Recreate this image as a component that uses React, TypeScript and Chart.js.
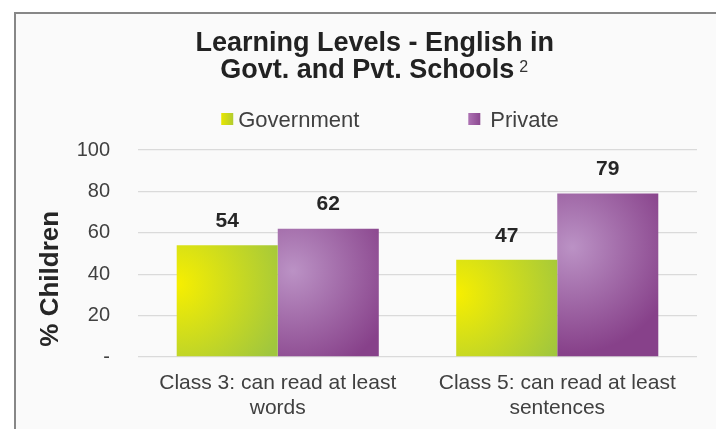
import React, { useEffect, useRef } from "react";
import { Chart, registerables } from "chart.js";

Chart.register(...registerables);

// ---- data ----
const categoryLabels: string[][] = [
  ["Class 3: can read at least", "words"],
  ["Class 5: can read at least", "sentences"],
];
const seriesNames = ["Government", "Private"];
const governmentValues = [54, 47];
const privateValues = [62, 79];
const yTickValues = [0, 20, 40, 60, 80, 100];
const titleLines = ["Learning Levels - English in", "Govt. and Pvt. Schools"];
const titleSuperscript = "2";
const yAxisTitle = "% Children";
const zeroTickLabel = "-";

// ---- styles ----
const FONT = '"Liberation Sans", Arial, Helvetica, sans-serif';
const barShades = [
  { inner: "#f7ef00", outer: "#a0c63e", fx: 0.0, fy: 0.35, r: 1.15 },
  { inner: "#bb92c5", outer: "#87418a", fx: 0.15, fy: 0.33, r: 1.05 },
];
const legendSwatches = [
  ["#e8e600", "#b2cc30"],
  ["#ad72b3", "#8b4890"],
];

const barShading = {
  id: "barShading",
  beforeDatasetsDraw(chart: any) {
    const ctx = chart.ctx;
    chart.data.datasets.forEach((_ds: any, di: number) => {
      const meta = chart.getDatasetMeta(di);
      const s = barShades[di];
      meta.data.forEach((el: any) => {
        const { x, y, base, width } = el.getProps(["x", "y", "base", "width"], true);
        const left = x - width / 2;
        const h = base - y;
        const cx = left + width * s.fx;
        const cy = y + h * s.fy;
        const g = ctx.createRadialGradient(cx, cy, 0, cx, cy, width * s.r);
        g.addColorStop(0, s.inner);
        g.addColorStop(1, s.outer);
        el.options = Object.assign({}, el.options, { backgroundColor: g });
      });
    });
  },
};

const swatchLegend = {
  id: "swatchLegend",
  afterDraw(chart: any, _args: any, opts: any) {
    const ctx = chart.ctx;
    ctx.save();
    ctx.font = `${opts.fontSize}px ${FONT}`;
    const items = chart.data.datasets.map((ds: any, i: number) => {
      const text = String(ds.label);
      const gap = opts.gaps[i];
      return { text, i, gap, w: opts.box + gap + ctx.measureText(text).width };
    });
    const total =
      items.reduce((a: number, it: any) => a + it.w, 0) + opts.spacing * (items.length - 1);
    let x = opts.centerX - total / 2;
    items.forEach((it: any) => {
      const [c0, c1] = legendSwatches[it.i];
      const g = ctx.createLinearGradient(x, 0, x + opts.box, 0);
      g.addColorStop(0, c0);
      g.addColorStop(1, c1);
      ctx.fillStyle = g;
      ctx.fillRect(x, opts.y - opts.box / 2, opts.box, opts.box);
      ctx.fillStyle = opts.color;
      ctx.textAlign = "left";
      ctx.textBaseline = "middle";
      ctx.fillText(it.text, x + opts.box + it.gap, opts.y + 1.5);
      x += it.w + opts.spacing;
    });
    ctx.restore();
  },
};

const titleSup = {
  id: "titleSup",
  afterDraw(chart: any, _args: any, opts: any) {
    const tb = chart.titleBlock;
    if (!tb) return;
    const ctx = chart.ctx;
    const tOpts = chart.options.plugins.title;
    const size = tOpts.font.size;
    const lh = size * tOpts.font.lineHeight;
    const full = String(tOpts.text[1]);
    ctx.save();
    ctx.font = `bold ${size}px ${FONT}`;
    const wFull = ctx.measureText(full).width;
    const wText = ctx.measureText(full.trimEnd()).width;
    const cx = (tb.left + tb.right) / 2;
    const start = cx - wFull / 2;
    const lineCenter = tb.top + tOpts.padding.top + lh * 1.5;
    ctx.font = `${opts.fontSize}px ${FONT}`;
    ctx.fillStyle = opts.color;
    ctx.textAlign = "left";
    ctx.textBaseline = "alphabetic";
    ctx.fillText(opts.text, start + wText + opts.gap, lineCenter + opts.dy);
    ctx.restore();
  },
};

const valueLabels = {
  id: "valueLabels",
  afterDatasetsDraw(chart: any, _args: any, opts: any) {
    const ctx = chart.ctx;
    ctx.save();
    ctx.font = `bold ${opts.fontSize}px ${FONT}`;
    ctx.fillStyle = opts.color;
    ctx.textAlign = "center";
    ctx.textBaseline = "middle";
    chart.data.datasets.forEach((ds: any, di: number) => {
      chart.getDatasetMeta(di).data.forEach((el: any, i: number) => {
        const { x, y } = el.getProps(["x", "y"], true);
        ctx.fillText(String(ds.data[i]), x, y - opts.offset);
      });
    });
    ctx.restore();
  },
};

export default function App() {
  const ref = useRef<HTMLCanvasElement | null>(null);

  useEffect(() => {
    if (!ref.current) return;
    Chart.defaults.font.family = FONT;
    const chart = new Chart(ref.current, {
      type: "bar",
      data: {
        labels: categoryLabels as any,
        datasets: [
          {
            label: seriesNames[0],
            data: governmentValues,
            backgroundColor: "#d0da20",
            borderWidth: 0,
            categoryPercentage: 0.723,
            barPercentage: 1,
          },
          {
            label: seriesNames[1],
            data: privateValues,
            backgroundColor: "#a060a4",
            borderWidth: 0,
            categoryPercentage: 0.723,
            barPercentage: 1,
          },
        ],
      },
      options: {
        responsive: false,
        animation: false,
        events: [],
        layout: { padding: { top: 30, left: 25.4, right: 0, bottom: 3 } },
        plugins: {
          legend: { display: false },
          tooltip: { enabled: false },
          title: {
            display: true,
            text: [titleLines[0], titleLines[1] + "  "],
            color: "#222222",
            font: { family: FONT, size: 27, weight: "bold", lineHeight: 1 },
            padding: { top: 0, bottom: 66 },
          },
          titleSup: { text: titleSuperscript, fontSize: 16, color: "#333333", gap: 5, dy: 1 },
          swatchLegend: {
            centerX: 390,
            y: 119,
            box: 12,
            gaps: [5, 10],
            spacing: 109,
            fontSize: 22,
            color: "#404040",
          },
          valueLabels: { fontSize: 21, color: "#262626", offset: 24 },
        } as any,
        scales: {
          x: {
            grid: { display: false, drawTicks: false },
            border: { display: false },
            ticks: {
              color: "#404040",
              font: { size: 21, lineHeight: 1.19 },
              padding: 13.5,
              maxRotation: 0,
              autoSkip: false,
            },
          },
          y: {
            min: yTickValues[0],
            max: yTickValues[yTickValues.length - 1],
            afterBuildTicks: (s: any) => {
              s.ticks = yTickValues.map((v) => ({ value: v }));
            },
            afterFit: (s: any) => {
              s.width = 112.6;
            },
            ticks: {
              color: "#404040",
              font: { size: 20 },
              padding: 28,
              callback: (v: any) => (Number(v) === 0 ? zeroTickLabel : String(v)),
            },
            grid: { color: "#dadada", lineWidth: 1.3, drawTicks: false },
            border: { display: false },
            title: {
              display: true,
              text: yAxisTitle + "       ",
              color: "#262626",
              font: { size: 26, weight: "bold", lineHeight: 1.2 },
              padding: { top: 10, bottom: 10 },
            },
          },
          y2: {
            type: "linear",
            position: "right",
            display: true,
            grid: { display: false, drawTicks: false },
            border: { display: false },
            ticks: { display: false },
            afterFit: (s: any) => {
              s.width = 27;
            },
          },
        } as any,
      },
      plugins: [barShading, swatchLegend, titleSup, valueLabels],
    });
    return () => chart.destroy();
  }, []);

  return (
    <div
      style={{
        position: "relative",
        width: 724,
        height: 437,
        margin: -8,
        overflow: "hidden",
        background: "#ffffff",
      }}
    >
      <div
        style={{
          position: "absolute",
          left: 14,
          top: 12,
          width: 709,
          height: 500,
          boxSizing: "border-box",
          border: "2px solid #878787",
          background: "#fafafa",
        }}
      />
      <canvas
        ref={ref}
        width={724}
        height={437}
        style={{ position: "absolute", left: 0, top: 0, width: 724, height: 437 }}
      />
    </div>
  );
}
